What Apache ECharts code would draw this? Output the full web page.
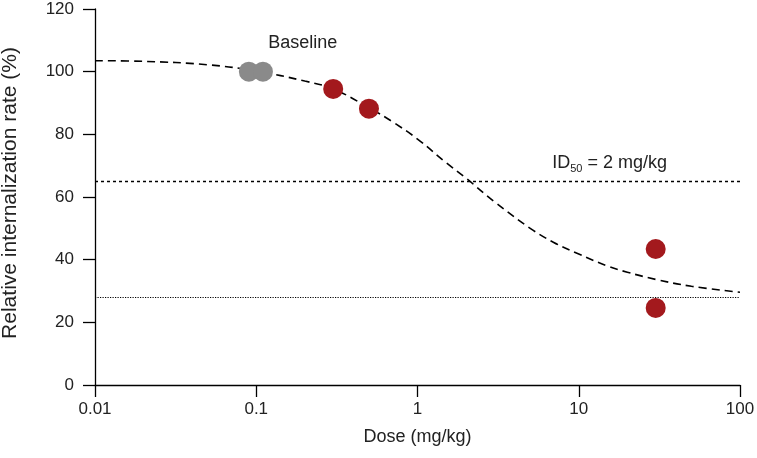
<!DOCTYPE html>
<html><head><meta charset="utf-8">
<script src="https://cdn.jsdelivr.net/npm/echarts@6/dist/echarts.min.js"></script>
<style>html,body{margin:0;padding:0;background:#fff}#c{width:757px;height:458px}</style>
</head><body><div id="c"></div>
<script>
// Data
var baselineDoses = [0.09, 0.11];
var baselineValues = [100, 100];
var treatedDoses = [0.3, 0.5, 30, 30];
var treatedValues = [94.5, 88.2, 43.4, 24.6];
var curveDoses = [0.01, 0.02, 0.05, 0.1, 0.2, 0.3, 0.5, 0.7, 1, 1.5, 2, 3, 5, 7, 10, 15, 20, 30, 50, 100];
var curveValues = [103.5, 103.3, 102.2, 100.2, 97.0, 94.5, 88.5, 84.0, 78.5, 71.0, 66.0, 58.5, 50.0, 45.5, 41.8, 38.0, 36.0, 33.7, 31.5, 29.6];
var id50Level = 65;
var floorLevel = 28;
var xTicks = [0.01, 0.1, 1, 10, 100];
var yTicks = [0, 20, 40, 60, 80, 100, 120];

function zip(a, b) { return a.map(function (v, i) { return [v, b[i]]; }); }

var font = '"Liberation Sans", Arial, sans-serif';
var chart = echarts.init(document.getElementById('c'));
chart.setOption({
  animation: false,
  grid: { left: 95, right: 17, top: 9, bottom: 73, containLabel: false, outerBoundsMode: 'none' },
  xAxis: {
    type: 'log', logBase: 10, min: xTicks[0], max: xTicks[xTicks.length - 1],
    name: 'Dose (mg/kg)', nameLocation: 'middle', nameGap: 43,
    nameTextStyle: { fontFamily: font, fontSize: 18, color: '#222' },
    axisLine: { lineStyle: { color: '#000', width: 1.3 } },
    axisTick: { length: 12, lineStyle: { color: '#000', width: 1.3 } },
    axisLabel: { margin: 16, fontFamily: font, fontSize: 17, color: '#222',
      formatter: function (v) { return String(+v.toPrecision(3)); } },
    splitLine: { show: false }, minorTick: { show: false }
  },
  yAxis: {
    type: 'value', min: yTicks[0], max: yTicks[yTicks.length - 1], interval: 20,
    name: 'Relative internalization rate (%)', nameLocation: 'middle', nameGap: 74,
    nameTextStyle: { fontFamily: font, fontSize: 21, color: '#222', padding: [0, 0, 0, 8] },
    axisLine: { show: true, lineStyle: { color: '#000', width: 1.3 } },
    axisTick: { show: true, length: 12, lineStyle: { color: '#000', width: 1.3 } },
    axisLabel: { margin: 21, fontFamily: font, fontSize: 17, color: '#222' },
    splitLine: { show: false }
  },
  series: [
    {
      type: 'line', data: zip(curveDoses, curveValues), smooth: 0.4, symbol: 'none',
      lineStyle: { color: '#000', width: 1.6, type: [8, 5] }, z: 2,
      markLine: {
        silent: true, symbol: 'none', label: { show: false },
        data: [
          { yAxis: id50Level, lineStyle: { color: '#000', width: 1.3, type: [3, 3] } },
          { yAxis: floorLevel, lineStyle: { color: '#000', width: 1.2, type: [1.2, 1.3] } }
        ]
      }
    },
    {
      type: 'scatter', data: zip(baselineDoses, baselineValues), symbolSize: 20,
      itemStyle: { color: '#8a8a8a', opacity: 1 }, z: 3
    },
    {
      type: 'scatter', data: zip(treatedDoses, treatedValues), symbolSize: 20,
      itemStyle: { color: '#a3191d', opacity: 1 }, z: 3
    }
  ]
});
var pB = chart.convertToPixel({ gridIndex: 0 }, [0.1, 100]);
var pI = chart.convertToPixel({ gridIndex: 0 }, [100, id50Level]);
chart.setOption({
  graphic: [
    { type: 'text', left: pB[0] + 12, top: pB[1] - 38,
      style: { text: 'Baseline', font: '18px ' + font, fill: '#222' } },
    { type: 'text', right: 757 - pI[0] + 73, top: pI[1] - 27,
      style: { rich: {
        a: { fontFamily: font, fontSize: 18, fill: '#222', color: '#222' },
        s: { fontFamily: font, fontSize: 11, fill: '#222', color: '#222', padding: [11, 0, 0, 0] }
      }, text: '{a|ID}{s|50}{a| = 2 mg/kg}' } }
  ]
});
</script></body></html>
